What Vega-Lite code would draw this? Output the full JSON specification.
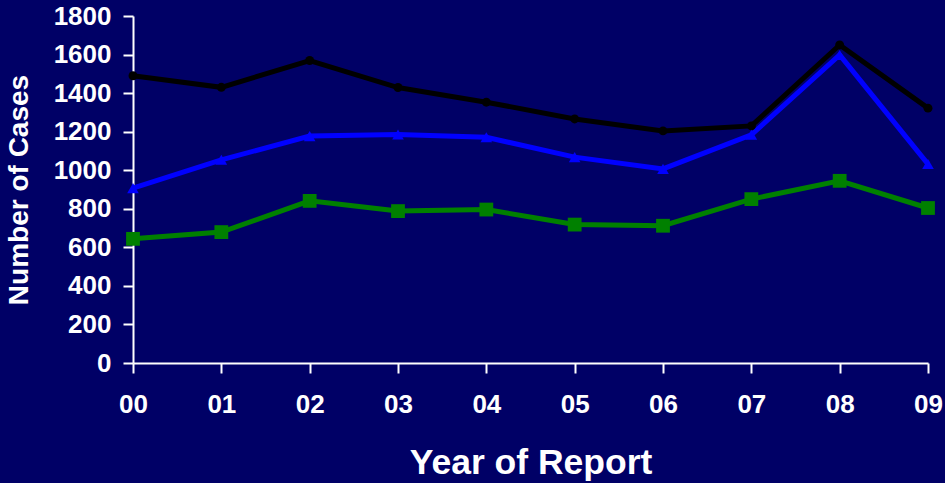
{
  "$schema": "https://vega.github.io/schema/vega-lite/v6.json",
  "width": 795,
  "height": 347,
  "autosize": {"type": "none"},
  "padding": {"left": 133, "top": 16, "right": 17, "bottom": 120},
  "background": "#000066",
  "config": {"view": {"stroke": null}, "font": "Liberation Sans"},
  "data": {
    "values": [
      {"year": "00", "series": "Series 1", "cases": 1490},
      {"year": "01", "series": "Series 1", "cases": 1430},
      {"year": "02", "series": "Series 1", "cases": 1569},
      {"year": "03", "series": "Series 1", "cases": 1429},
      {"year": "04", "series": "Series 1", "cases": 1353},
      {"year": "05", "series": "Series 1", "cases": 1266},
      {"year": "06", "series": "Series 1", "cases": 1204},
      {"year": "07", "series": "Series 1", "cases": 1230},
      {"year": "08", "series": "Series 1", "cases": 1650},
      {"year": "09", "series": "Series 1", "cases": 1322},
      {"year": "00", "series": "Series 2", "cases": 907},
      {"year": "01", "series": "Series 2", "cases": 1054},
      {"year": "02", "series": "Series 2", "cases": 1177},
      {"year": "03", "series": "Series 2", "cases": 1185},
      {"year": "04", "series": "Series 2", "cases": 1171},
      {"year": "05", "series": "Series 2", "cases": 1068},
      {"year": "06", "series": "Series 2", "cases": 1007},
      {"year": "07", "series": "Series 2", "cases": 1184},
      {"year": "08", "series": "Series 2", "cases": 1598},
      {"year": "09", "series": "Series 2", "cases": 1032},
      {"year": "00", "series": "Series 3", "cases": 644},
      {"year": "01", "series": "Series 3", "cases": 679},
      {"year": "02", "series": "Series 3", "cases": 841},
      {"year": "03", "series": "Series 3", "cases": 788},
      {"year": "04", "series": "Series 3", "cases": 796},
      {"year": "05", "series": "Series 3", "cases": 718},
      {"year": "06", "series": "Series 3", "cases": 712},
      {"year": "07", "series": "Series 3", "cases": 850},
      {"year": "08", "series": "Series 3", "cases": 945},
      {"year": "09", "series": "Series 3", "cases": 804}
    ]
  },
  "encoding": {
    "x": {
      "field": "year",
      "type": "ordinal",
      "scale": {"type": "point", "padding": 0},
      "axis": {
        "title": "Year of Report",
        "labelAngle": 0,
        "labelFontSize": 26,
        "labelFontWeight": "bold",
        "labelColor": "white",
        "labelPadding": 18,
        "domainColor": "white",
        "domainWidth": 2,
        "tickColor": "white",
        "tickWidth": 2,
        "tickSize": 10,
        "grid": false,
        "titleFontSize": 35.5,
        "titleFontWeight": "bold",
        "titleColor": "white",
        "titlePadding": 28
      }
    },
    "y": {
      "field": "cases",
      "type": "quantitative",
      "scale": {"domain": [0, 1800]},
      "axis": {
        "title": "Number of Cases",
        "format": "d",
        "values": [0, 200, 400, 600, 800, 1000, 1200, 1400, 1600, 1800],
        "labelFontSize": 26,
        "labelFontWeight": "bold",
        "labelColor": "white",
        "labelPadding": 12,
        "domainColor": "white",
        "domainWidth": 2,
        "tickColor": "white",
        "tickWidth": 2,
        "tickSize": 10,
        "grid": false,
        "titleFontSize": 28,
        "titleFontWeight": "bold",
        "titleColor": "white",
        "titlePadding": 20
      }
    },
    "color": {
      "field": "series",
      "type": "nominal",
      "scale": {"domain": ["Series 1", "Series 2", "Series 3"], "range": ["#000000", "#0000ff", "#008000"]},
      "legend": null
    }
  },
  "layer": [
    {"mark": {"type": "line", "strokeWidth": 5}},
    {
      "mark": {"type": "point", "filled": true, "opacity": 1},
      "encoding": {
        "shape": {
          "field": "series",
          "type": "nominal",
          "scale": {"domain": ["Series 1", "Series 2", "Series 3"], "range": ["circle", "triangle-up", "square"]},
          "legend": null
        },
        "size": {
          "field": "series",
          "type": "nominal",
          "scale": {"domain": ["Series 1", "Series 2", "Series 3"], "range": [80, 190, 130]},
          "legend": null
        }
      }
    }
  ]
}
